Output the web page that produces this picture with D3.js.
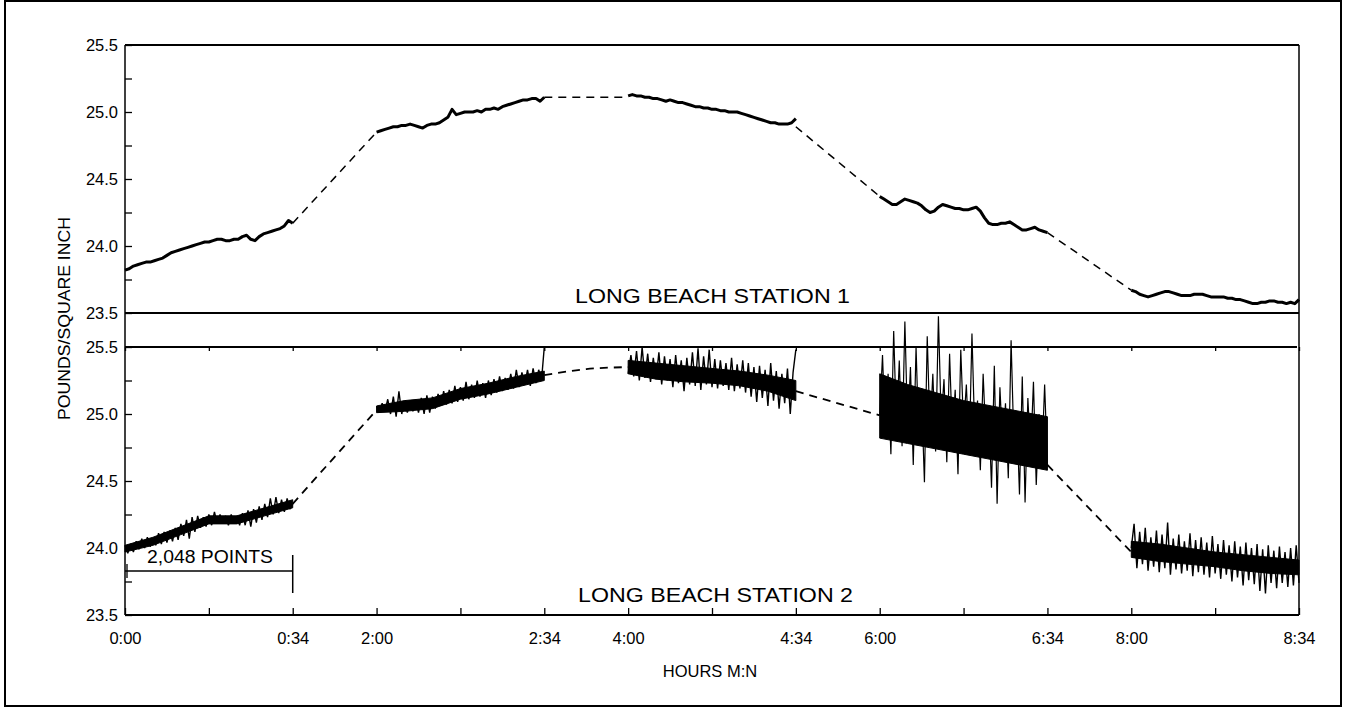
<!DOCTYPE html>
<html><head><meta charset="utf-8">
<script src="https://cdn.jsdelivr.net/npm/d3@7"></script>
<style>
html,body{margin:0;padding:0;background:#fff;}
svg{display:block;font-family:"Liberation Sans",Arial,Helvetica,sans-serif;}
</style></head><body>
<svg id="chart" width="1345" height="710"></svg>
<script>
// ---------- axis data ----------
const xTickUnits = [0,1,2,3,4,5,6,7,8,9,10,11,12,13,14];
const xTickLabels = ["0:00","","0:34","2:00","","2:34","4:00","","4:34","6:00","","6:34","8:00","","8:34"];
const yTickValues = [23.5,23.75,24.0,24.25,24.5,24.75,25.0,25.25,25.5];
const yTickLabels = ["23.5","","24.0","","24.5","","25.0","","25.5"];
const segStarts = [0,3,6,9,12];
const gapStarts = [2,5,8,11];

// ---------- Long Beach Station 1 (pounds/square inch) ----------
const st1Seg1 = [23.82,23.83,23.85,23.86,23.87,23.88,23.88,23.89,23.90,23.91,23.93,23.95,23.96,23.97,23.98,23.99,24.00,24.01,24.02,24.03,24.03,24.04,24.05,24.05,24.04,24.04,24.05,24.05,24.07,24.08,24.05,24.04,24.07,24.09,24.10,24.11,24.12,24.13,24.15,24.19,24.17];
const st1Seg2 = [24.85,24.86,24.87,24.88,24.89,24.89,24.90,24.90,24.91,24.90,24.89,24.88,24.90,24.91,24.91,24.92,24.94,24.96,25.02,24.98,24.99,25.00,25.00,25.00,25.01,25.00,25.02,25.02,25.03,25.02,25.04,25.05,25.06,25.07,25.08,25.09,25.09,25.10,25.10,25.08,25.11];
const st1Seg3 = [25.12,25.13,25.12,25.12,25.11,25.11,25.10,25.10,25.09,25.08,25.09,25.08,25.07,25.07,25.06,25.05,25.04,25.04,25.03,25.03,25.02,25.02,25.01,25.01,25.00,25.00,25.00,24.99,24.98,24.97,24.96,24.95,24.94,24.93,24.92,24.92,24.91,24.91,24.91,24.92,24.95];
const st1Seg4 = [24.37,24.35,24.33,24.31,24.31,24.33,24.35,24.34,24.33,24.32,24.30,24.27,24.25,24.26,24.29,24.31,24.30,24.29,24.28,24.28,24.27,24.27,24.28,24.29,24.26,24.21,24.17,24.16,24.16,24.17,24.17,24.18,24.16,24.14,24.12,24.12,24.13,24.14,24.12,24.11,24.10];
const st1Seg5 = [23.67,23.66,23.64,23.63,23.62,23.63,23.64,23.65,23.66,23.66,23.65,23.64,23.63,23.63,23.63,23.64,23.64,23.64,23.63,23.62,23.62,23.62,23.62,23.61,23.61,23.60,23.60,23.59,23.58,23.57,23.57,23.58,23.58,23.59,23.59,23.58,23.58,23.57,23.58,23.57,23.60];
const st1Gaps = [[24.17,24.85],[25.11,25.11],[24.89,24.37],[24.10,23.67]];

// ---------- Long Beach Station 2 (pounds/square inch) ----------
const st2Seg1 = [24.02,23.96,24.03,23.97,24.05,23.99,24.07,24.00,24.08,24.01,24.07,24.02,24.11,24.03,24.12,24.04,24.13,24.05,24.15,24.06,24.18,24.09,24.21,24.07,24.23,24.12,24.24,24.15,24.23,24.16,24.25,24.17,24.27,24.18,24.25,24.18,24.24,24.17,24.25,24.18,24.24,24.17,24.26,24.17,24.28,24.16,24.29,24.19,24.31,24.21,24.33,24.23,24.37,24.25,24.38,24.26,24.36,24.27,24.37,24.29,24.33];
const st2Seg2 = [25.06,25.01,25.08,25.02,25.11,25.00,25.13,24.98,25.17,25.00,25.10,25.01,25.09,25.02,25.10,25.01,25.12,25.00,25.14,25.01,25.13,25.04,25.15,25.06,25.17,25.07,25.18,25.08,25.21,25.09,25.20,25.10,25.24,25.11,25.22,25.12,25.25,25.13,25.23,25.12,25.25,25.14,25.26,25.16,25.28,25.17,25.27,25.18,25.30,25.19,25.33,25.20,25.31,25.22,25.33,25.21,25.34,25.23,25.33,25.25,25.50];
const st2Seg3 = [25.30,25.44,25.28,25.47,25.25,25.50,25.27,25.45,25.24,25.42,25.26,25.46,25.22,25.43,25.25,25.41,25.20,25.44,25.23,25.40,25.17,25.42,25.22,25.46,25.21,25.49,25.18,25.43,25.22,25.48,25.20,25.41,25.19,25.40,25.21,25.38,25.18,25.42,25.17,25.37,25.19,25.40,25.16,25.38,25.13,25.35,25.09,25.36,25.12,25.33,25.06,25.38,25.10,25.32,25.04,25.30,25.08,25.34,25.00,25.31,25.48];
const st2Seg4 = [24.99,25.44,24.85,25.30,24.70,25.62,24.90,25.40,24.76,25.69,24.88,25.35,24.62,25.50,24.80,25.12,24.49,25.58,24.86,25.30,24.72,25.73,24.95,25.26,24.64,25.45,24.82,25.18,24.55,25.48,24.90,25.22,24.70,25.60,24.85,25.10,24.58,25.30,24.80,25.05,24.45,25.36,24.33,25.20,24.75,25.08,24.52,25.55,24.78,25.02,24.40,25.28,24.34,25.12,24.70,25.24,24.47,25.00,24.65,25.22,24.62];
const st2Seg5 = [24.00,24.18,23.85,24.12,23.88,24.15,23.83,24.08,23.86,24.13,23.82,24.10,23.85,24.19,23.80,24.07,23.84,24.10,23.81,24.05,23.83,24.11,23.79,24.06,23.82,24.08,23.80,24.04,23.78,24.09,23.81,24.03,23.77,24.06,23.80,24.02,23.75,24.05,23.78,24.01,23.72,24.04,23.76,24.00,23.73,24.03,23.68,23.99,23.66,24.02,23.74,23.98,23.70,24.01,23.74,23.97,23.71,24.00,23.72,24.02,23.74];
const st2CoreHi = [[24.02,24.08,24.16,24.24,24.24,24.30,24.36],[25.06,25.10,25.12,25.19,25.23,25.28,25.32],[25.40,25.38,25.36,25.34,25.32,25.29,25.25],[25.30,25.22,25.16,25.10,25.06,25.02,24.98],[24.05,24.03,24.00,23.97,23.95,23.93,23.91]];
const st2CoreLo = [[23.97,24.02,24.10,24.18,24.18,24.24,24.30],[25.01,25.02,25.04,25.11,25.15,25.20,25.25],[25.30,25.26,25.24,25.23,25.21,25.17,25.10],[24.82,24.78,24.74,24.70,24.66,24.62,24.58],[23.93,23.90,23.88,23.86,23.83,23.81,23.80]];
const st2Gaps = [[24.33,25.03],[25.29,25.335,25.35],[25.17,24.99],[24.62,23.97]];

const st1Segs = [st1Seg1,st1Seg2,st1Seg3,st1Seg4,st1Seg5];
const st2Segs = [st2Seg1,st2Seg2,st2Seg3,st2Seg4,st2Seg5];

// ---------- layout ----------
const svg = d3.select("#chart");
const x = d3.scaleLinear().domain([0,14]).range([125,1299]);
const y1 = d3.scaleLinear().domain([23.5,25.5]).range([313,45]);
const y2 = d3.scaleLinear().domain([23.5,25.5]).range([615,347]);

function spread(values, start, span){
  const n = values.length;
  return values.map((v,i)=>[start + span*i/(n-1), v]);
}

// outer frame
svg.append("rect").attr("x",5).attr("y",1).attr("width",1336).attr("height",705)
  .attr("fill","none").attr("stroke","#000").attr("stroke-width",2);

// panel frame lines
const hl = (yy, x0, x1, w) => svg.append("line").attr("x1",x0).attr("x2",x1).attr("y1",yy).attr("y2",yy).attr("stroke","#000").attr("stroke-width",w);
hl(y1(25.5), x(0), x(14), 2);
hl(y1(23.5), x(0), x(14), 2.2);
hl(y2(25.5), x(0), x(14)-2, 2.2);
hl(y2(23.5), x(0), x(14), 2.2);
svg.append("line").attr("x1",x(0)).attr("x2",x(0)).attr("y1",y1(25.5)).attr("y2",y2(23.5)).attr("stroke","#000").attr("stroke-width",1.5);
svg.append("line").attr("x1",x(14)).attr("x2",x(14)).attr("y1",y1(25.5)).attr("y2",y2(23.5)).attr("stroke","#000").attr("stroke-width",1.5);

// axes
function styleAxis(g){
  g.select(".domain").remove();
  g.selectAll(".tick line").attr("stroke","#000").attr("stroke-width",1.3);
  g.selectAll(".tick text").attr("fill","#000").attr("font-size","16.5px")
   .attr("font-family",'"Liberation Sans",Arial,sans-serif');
}
const fmtY = (v) => yTickLabels[yTickValues.indexOf(v)];
svg.append("g").attr("transform",`translate(${x(0)},0)`)
  .call(d3.axisLeft(y1).tickValues(yTickValues).tickSizeInner(-7).tickSizeOuter(0).tickPadding(7).tickFormat(fmtY))
  .call(styleAxis);
svg.append("g").attr("transform",`translate(${x(0)},0)`)
  .call(d3.axisLeft(y2).tickValues(yTickValues).tickSizeInner(-7).tickSizeOuter(0).tickPadding(7).tickFormat(fmtY))
  .call(styleAxis);
svg.append("g").attr("transform",`translate(0,${y2(23.5)})`)
  .call(d3.axisBottom(x).tickValues(xTickUnits).tickSizeInner(-7).tickSizeOuter(0).tickPadding(17).tickFormat((d,i)=>xTickLabels[i]))
  .call(styleAxis);
// small ticks hanging from the station-2 top line
svg.append("g").attr("transform",`translate(0,${y2(25.5)})`)
  .call(d3.axisBottom(x).tickValues(xTickUnits).tickSizeInner(4).tickSizeOuter(0).tickFormat(""))
  .call(styleAxis);

// axis titles
svg.append("text").attr("transform",`translate(70,318.5) rotate(-90)`)
  .attr("text-anchor","middle").attr("font-size","17px").attr("textLength",203).attr("lengthAdjust","spacingAndGlyphs")
  .text("POUNDS/SQUARE INCH");
svg.append("text").attr("x",710).attr("y",677).attr("text-anchor","middle").attr("font-size","16.5px")
  .text("HOURS M:N");

// station labels
svg.append("text").attr("x",575).attr("y",303).attr("font-size","21px").attr("textLength",275).attr("lengthAdjust","spacingAndGlyphs")
  .text("LONG BEACH STATION 1");
svg.append("text").attr("x",578).attr("y",602).attr("font-size","21px").attr("textLength",275).attr("lengthAdjust","spacingAndGlyphs")
  .text("LONG BEACH STATION 2");

// 2,048 points annotation
svg.append("text").attr("x",147).attr("y",563).attr("font-size","18px").attr("textLength",126).attr("lengthAdjust","spacingAndGlyphs")
  .text("2,048 POINTS");
svg.append("line").attr("x1",x(0)).attr("x2",x(2)).attr("y1",571).attr("y2",571).attr("stroke","#000").attr("stroke-width",1.3);
svg.append("line").attr("x1",x(2)).attr("x2",x(2)).attr("y1",555).attr("y2",593).attr("stroke","#000").attr("stroke-width",1.5);
svg.append("line").attr("x1",x(0)+2).attr("x2",x(0)+2).attr("y1",564).attr("y2",578).attr("stroke","#000").attr("stroke-width",1.3);

// ---------- station 1 ----------
const line1 = d3.line().x(d=>x(d[0])).y(d=>y1(d[1]));
st1Segs.forEach((vals,i)=>{
  svg.append("path").attr("d",line1(spread(vals,segStarts[i],2)))
    .attr("fill","none").attr("stroke","#000").attr("stroke-width",3).attr("stroke-linejoin","round");
});
st1Gaps.forEach((vals,i)=>{
  svg.append("path").attr("d",line1(spread(vals,gapStarts[i],1)))
    .attr("fill","none").attr("stroke","#000").attr("stroke-width",1.5).attr("stroke-dasharray","8,6");
});

// ---------- station 2 ----------
const line2 = d3.line().x(d=>x(d[0])).y(d=>y2(d[1]));
const area2 = d3.area().x(d=>x(d[0])).y0(d=>y2(d[1])).y1(d=>y2(d[2]));
st2CoreHi.forEach((hi,i)=>{
  const lo = st2CoreLo[i];
  const pts = hi.map((h,j)=>[segStarts[i] + 2*j/(hi.length-1), lo[j], h]);
  svg.append("path").attr("d",area2(pts)).attr("fill","#000").attr("stroke","#000").attr("stroke-width",1);
});
st2Segs.forEach((vals,i)=>{
  svg.append("path").attr("d",line2(spread(vals,segStarts[i],2)))
    .attr("fill","none").attr("stroke","#000").attr("stroke-width",i===3 ? 1.2 : 1.4).attr("stroke-linejoin","bevel");
});
st2Gaps.forEach((vals,i)=>{
  svg.append("path").attr("d",d3.line().x(d=>x(d[0])).y(d=>y2(d[1])).curve(d3.curveMonotoneX)(spread(vals,gapStarts[i],1)))
    .attr("fill","none").attr("stroke","#000").attr("stroke-width",1.8).attr("stroke-dasharray","8,6");
});
</script></body></html>
